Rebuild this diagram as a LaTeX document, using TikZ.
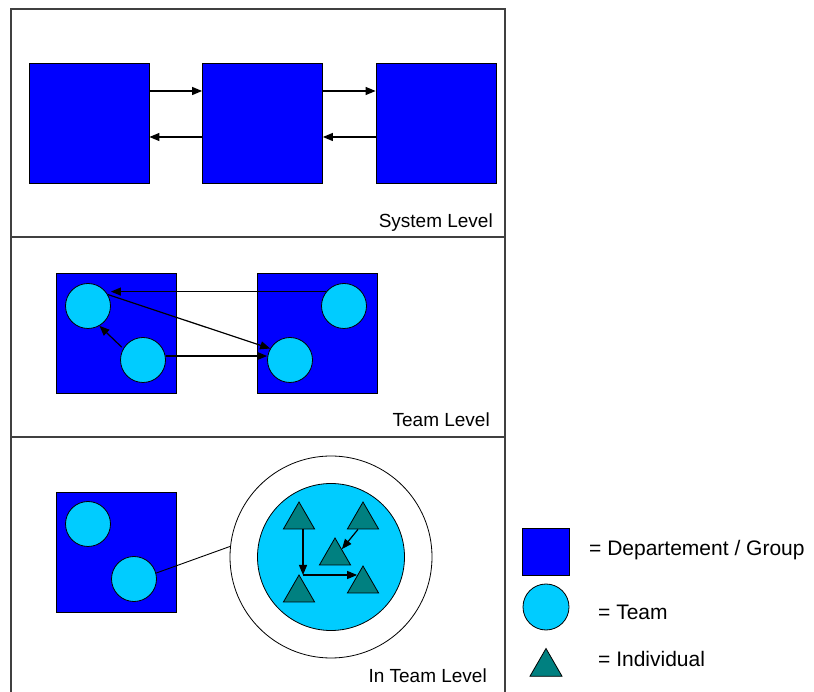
\documentclass[tikz,border=0pt]{standalone}
\usepackage{fontspec}
\setmainfont{Liberation Sans}
\usetikzlibrary{arrows.meta,shapes.geometric}
\definecolor{deptblue}{RGB}{0,0,255}
\definecolor{teamcyan}{RGB}{0,204,255}
\definecolor{persteal}{RGB}{0,128,128}
\begin{document}
\begin{tikzpicture}[x=1pt,y=1pt,
	dept/.style={draw,fill=deptblue,minimum size=120pt,inner sep=0pt,line width=0.8pt},
	team/.style={circle,draw,fill=teamcyan,minimum size=45pt,inner sep=0pt,line width=0.8pt},
	person/.style={regular polygon,regular polygon sides=3,draw,fill=persteal,minimum size=36pt,inner sep=0pt,line width=0.8pt},
	link/.style={-{Triangle[length=10pt,width=8pt]},line width=1.2pt},
	frame/.style={draw=black!75,line width=1.4pt},
	level/.style={anchor=base east,inner sep=0pt,font=\fontsize{19}{22}\selectfont},
	key/.style={anchor=base west,inner sep=0pt,font=\fontsize{21}{24}\selectfont}]
	\clip (0,0) rectangle (814,691);
	% frame and the three bands
	\draw[frame] (11,-5) |- (505,682) -- (505,-5);
	\draw[frame] (11,454) -- (505,454);
	\draw[frame] (11,254) -- (505,254);
	% system level
	\node[dept] (sa) at (89,568) {};
	\node[dept] (sb) at (262.5,568) {};
	\node[dept] (sc) at (436,568) {};
	\draw[link] ([yshift=32pt]sa.east) -- ([yshift=32pt]sb.west);
	\draw[link] ([yshift=32pt]sb.east) -- ([yshift=32pt]sc.west);
	\draw[link] ([yshift=-14pt]sb.west) -- ([yshift=-14pt]sa.east);
	\draw[link] ([yshift=-14pt]sc.west) -- ([yshift=-14pt]sb.east);
	\node[level] (syslabel) at (493,463) {System Level};
	% team level
	\node[dept] (ta) at (116,358) {};
	\node[dept] (tb) at (317,358) {};
	\node[team] (a1) at (88,385) {};
	\node[team] (a2) at (143,331) {};
	\node[team] (b1) at (344,385) {};
	\node[team] (b2) at (290,331) {};
	\draw[link] (b1.141) -- (b1.141 -| a1.east);
	\draw[link] (a1.30) -- (b2.150);
	\draw[link,shorten <=2pt] (a2.150) -- (a1.-60);
	\draw[link] (a2.10) -- (a2.10 -| b2.west);
	\node[level] (teamlabel) at (490,264) {Team Level};
	% in team level
	\node[dept] (ua) at (116,139) {};
	\node[team] (c1) at (88,167) {};
	\node[team] (c2) at (134,112) {};
	\node[circle,draw,fill=white,minimum size=202pt,inner sep=0pt,line width=0.8pt] (ring) at (331,134) {};
	\node[team,minimum size=147pt] (zoomteam) at (331,134) {};
	\draw[line width=0.9pt] (c2.15) -- (ring.174);
	\node[person] (ia) at (299,171) {};
	\node[person] (ib) at (363,171) {};
	\node[person] (ic) at (335,135) {};
	\node[person] (id) at (299,98) {};
	\node[person] (ie) at (363,107) {};
	\coordinate (knee) at (303,116);
	\draw[link] (ia.south -| knee) -- (knee);
	\draw[link,shorten >=-5pt] (knee) -- (knee -| ie.west);
	\draw[link] ([xshift=-5pt]ib.south) -- (ic.north east);
	\node[level] (inteamlabel) at (487,9) {In Team Level};
	% legend
	\node[dept,minimum size=47pt] (keydept) at (545.5,139) {};
	\node[key] (keydepttext) at (589,135) {= Departement / Group};
	\node[team,minimum size=46pt] (keyteam) at (546,84) {};
	\node[key] (keyteamtext) at (598,71) {= Team};
	\node[person,minimum size=37pt] (keyperson) at (546,24) {};
	\node[key] (keypersontext) at (598,25) {= Individual};
\end{tikzpicture}
\end{document}
